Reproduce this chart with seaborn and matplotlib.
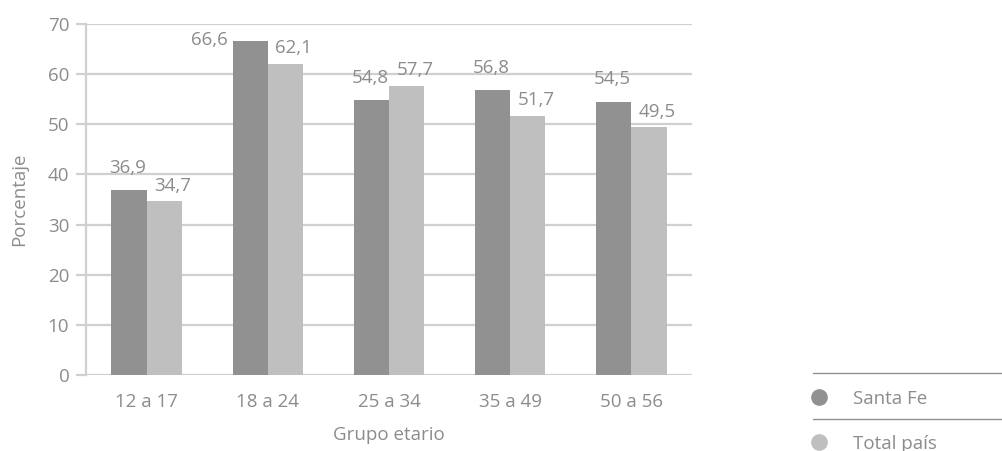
import pandas as pd
import matplotlib
matplotlib.use("Agg")
import matplotlib.pyplot as plt
from matplotlib.lines import Line2D
import seaborn as sns

# ── Data ──────────────────────────────────────────────────────────────────────
grupos = ["12 a 17", "18 a 24", "25 a 34", "35 a 49", "50 a 56"]
santa_fe = [36.9, 66.6, 54.8, 56.8, 54.5]
total_pais = [34.7, 62.1, 57.7, 51.7, 49.5]
series = ["Santa Fe", "Total país"]
yticks = [0, 10, 20, 30, 40, 50, 60, 70]

# ── Style ─────────────────────────────────────────────────────────────────────
sns.set_theme(style="white")
plt.rcParams["font.family"] = ["Open Sans", "DejaVu Sans"]
TXT = "#8c8c8c"
GRID = "#d0d0d0"
FS = 13.5
COLORS = {"Santa Fe": "#919191", "Total país": "#bfbfbf"}

df = pd.DataFrame({
    "Grupo": grupos * 2,
    "Serie": [series[0]] * len(grupos) + [series[1]] * len(grupos),
    "Valor": santa_fe + total_pais,
})

fig = plt.figure(figsize=(10.03, 4.51), dpi=100)
ax = fig.add_axes([0.0857, 0.1685, 0.6043, 0.7783])

sns.barplot(data=df, x="Grupo", y="Valor", hue="Serie", order=grupos,
            hue_order=series, palette=COLORS, width=0.58, gap=0,
            saturation=1, legend=False, linewidth=0, ax=ax)

ax.set_ylim(0, 70)
ax.set_xlim(-0.5, len(grupos) - 0.5)
ax.set_yticks(yticks)
ax.yaxis.grid(True, color=GRID, linewidth=1.6)
ax.set_axisbelow(True)
for s in ["top", "right", "bottom"]:
    ax.spines[s].set_visible(False)
ax.spines["left"].set_color(GRID)
ax.spines["left"].set_linewidth(1.6)
ax.tick_params(axis="y", length=7, width=1.6, color=GRID, labelsize=FS,
               labelcolor=TXT, pad=5, left=True)
ax.tick_params(axis="x", length=0, labelsize=FS, labelcolor=TXT, pad=13)
ax.set_xlabel("Grupo etario", fontsize=FS, color=TXT, labelpad=11)
ax.set_ylabel("Porcentaje", fontsize=FS, color=TXT, labelpad=14)

# value labels (decimal comma)
for i, cont in enumerate(ax.containers):
    for bar in cont:
        h = bar.get_height()
        txt = f"{h:.1f}".replace(".", ",")
        x = bar.get_x() + bar.get_width() / 2
        if i == 0 and h > 65:
            ax.annotate(txt, (bar.get_x(), h), xytext=(-17, 1),
                        textcoords="offset points", ha="center", va="center",
                        fontsize=FS, color=TXT)
        elif i == 0:
            ax.annotate(txt, (x, h), xytext=(-1, 16), textcoords="offset points",
                        ha="center", va="center", fontsize=FS, color=TXT)
        else:
            ax.annotate(txt, (x, h), xytext=(6, 11), textcoords="offset points",
                        ha="center", va="center", fontsize=FS, color=TXT)

# legend bottom right
handles = [Line2D([], [], marker="o", linestyle="", markersize=11,
                  markerfacecolor=COLORS[s], markeredgecolor=COLORS[s])
           for s in series]
fig.legend(handles, series, loc="upper left", bbox_to_anchor=(0.798, 0.136),
           bbox_transform=fig.transFigure, frameon=False, fontsize=FS,
           labelcolor=TXT, labelspacing=1.45, handletextpad=0.8,
           borderaxespad=0, borderpad=0)
for yy in [373, 419]:
    fig.add_artist(Line2D([813 / 1003, 1.0], [1 - yy / 451] * 2,
                          transform=fig.transFigure, color="#8f8f8f", linewidth=1))

fig.savefig("out.png", dpi=100)
